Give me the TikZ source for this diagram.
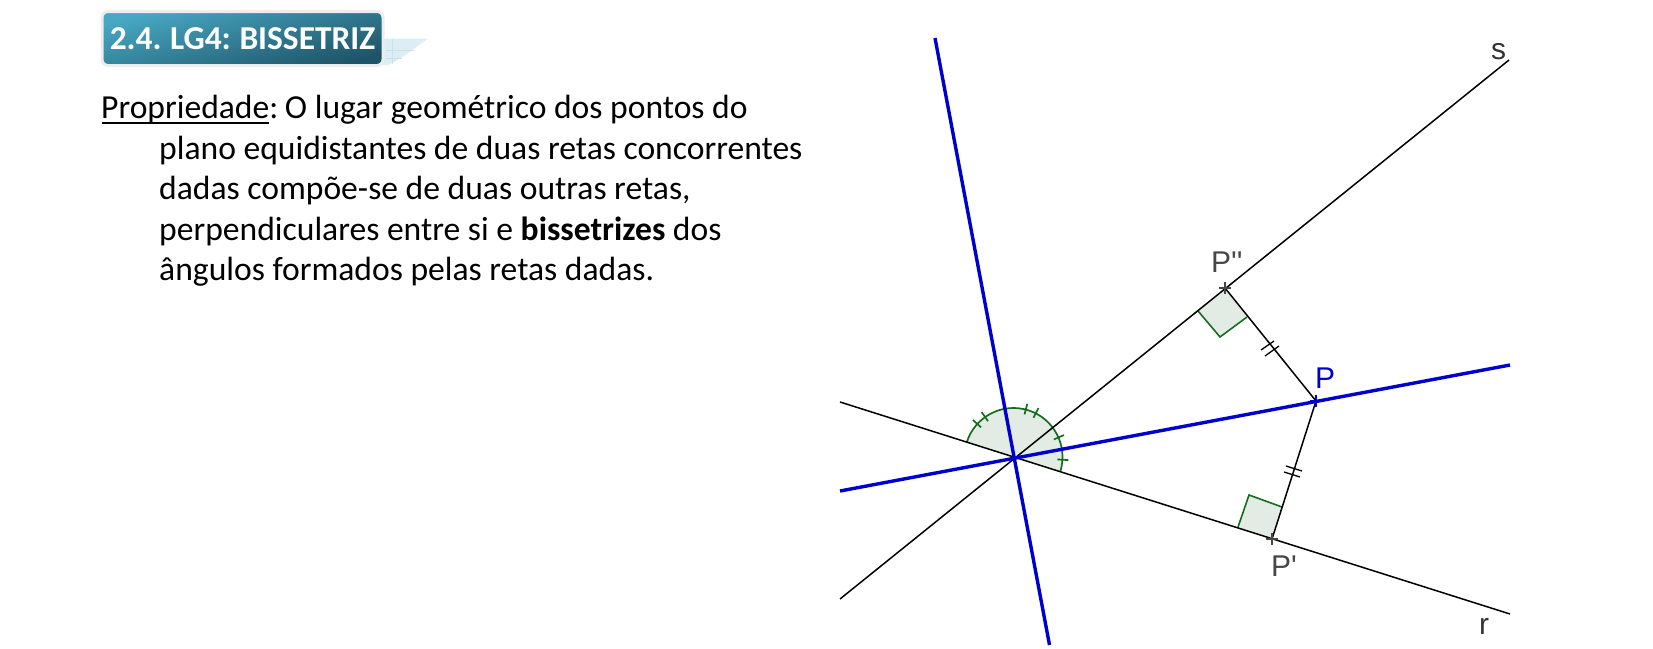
\documentclass[tikz,border=0pt]{standalone}
\usepackage{fontspec}
\setmainfont{Carlito}
\newfontfamily\geofont{Liberation Sans}
\usetikzlibrary{calc}
\definecolor{bluel}{RGB}{0,0,205}
\definecolor{greenm}{RGB}{20,110,30}
\definecolor{greenf}{RGB}{226,236,228}
\definecolor{graym}{RGB}{70,70,70}
\definecolor{boxtop}{RGB}{72,168,196}
\definecolor{boxbot}{RGB}{30,84,104}
\definecolor{sheet}{RGB}{220,238,243}
\definecolor{sheetgrid}{RGB}{200,226,234}
\tikzset{
  x=1pt,y=-1pt,
  thinline/.style={black,line width=1.5pt},
  blueline/.style={bluel,line width=3.4pt},
  greenmark/.style={greenm,line width=1.7pt},
  angfill/.style={fill=greenf,draw=none},
  geolabel/.style={anchor=base west,inner sep=0pt,font=\geofont\fontsize{30}{30}\selectfont,text=graym},
  bodytext/.style={anchor=base west,inner sep=0pt,font=\fontsize{33.6}{40}\selectfont,text=black},
  tick/.style={black,line width=1.3pt},
  ptmark/.style={graym,line width=1.8pt},
  titlebox/.style={rounded corners=6pt,minimum width=281pt,minimum height=54pt,inner sep=0pt,
    draw=black!7,line width=3pt,top color=boxtop,bottom color=boxbot,shading angle=15,
    text=white,font=\bfseries\fontsize{33.4}{33.4}\selectfont},
}
\begin{document}
\begin{tikzpicture}
\useasboundingbox (0,0) rectangle (1653,648);
% title sheet
\fill[sheet] (380,38.5) -- (428,38.5) .. controls (412,50) and (400,60) .. (388,65) -- (380,65) -- cycle;
\draw[sheetgrid,line width=.7pt] (386,50) -- (414,50) (392,38.5) -- (392,64) (386,58) -- (402,58);
\node[titlebox] (title) at (242.5,38.5) {2.4.\hspace{-1.5pt} LG4:\hspace{-1.5pt} BISSETRIZ};
% text
\node[bodytext] (l1) at (101,118.5) {Propriedade\llap{\rule[-5pt]{167pt}{1.5pt}}:\hspace{-3.5pt} O lugar geométrico dos pontos do};
\node[bodytext] (l2) at (159,159) {plano equidistantes de duas retas concorrentes};
\node[bodytext] (l3) at (159,199.5) {dadas compõe-se de duas outras retas,};
\node[bodytext] (l4) at (159,240) {perpendiculares entre si e \textbf{bissetrizes} dos};
\node[bodytext] (l5) at (159,280.5) {ângulos formados pelas retas dadas.};
% points
\coordinate (O) at (1013.5,457);
\coordinate (P) at (1316,401);
\coordinate (P1) at (1272,539);
\coordinate (P2) at (1225,288);
\coordinate (sa) at (840,599);
\coordinate (sb) at (1509,60);
\coordinate (ra) at (840,402);
\coordinate (rb) at (1510,614);
\coordinate (ba) at (935,38);
\coordinate (bb) at (1049.5,645);
\coordinate (ca) at (840,491);
\coordinate (cb) at (1510,365);
% angle sector
\fill[angfill] (O) -- ++(162.6:49pt) arc[start angle=162.6,end angle=-17.4,radius=49pt] -- cycle;
\draw[greenmark] ($(O)+(162.6:49pt)$) arc[start angle=162.6,end angle=-17.4,radius=49pt];
\foreach \a in {137.6,125.4,75.5,63,23.5,-3.2}{
  \draw[greenmark] ($(O)+(\a:44pt)$) -- ($(O)+(\a:55pt)$);
}
% right angles
\fill[greenf] (P2) -- (1198,311) -- (1220,337) -- (1247,317) -- cycle;
\fill[greenf] (P1) -- (1238,527) -- (1249,495) -- (1282,507) -- cycle;
\draw[greenm,line width=1.6pt] (1198,311) -- (1220,337) -- (1247,317);
\draw[greenm,line width=1.6pt] (1238,527) -- (1249,495) -- (1282,507);
% lines
\draw[thinline] (sa) -- (sb);
\draw[thinline] (ra) -- (rb);
\draw[thinline] (P2) -- (P);
\draw[thinline] (P1) -- (P);
\draw[blueline] (ba) -- (bb);
\draw[blueline] (ca) -- (cb);
% equal marks
\draw[tick] (1261,350) -- (1274,341) (1265,356) -- (1279,346);
\draw[tick] (1286,466) -- (1302,471) (1284,472) -- (1300,477);
% point marks
\draw[ptmark] (1225,282) -- (1225,294) (1219,288) -- (1231,288);
\draw[ptmark] (1272,533) -- (1272,545) (1266,539) -- (1278,539);
\draw[bluel,line width=1.8pt] (1316,395) -- (1316,407) (1310,401) -- (1322,401);
% labels
\node[geolabel] (lp2) at (1211,272) {P''};
\node[geolabel,text=bluel] (lp) at (1315,388) {P};
\node[geolabel] (lp1) at (1271,576) {P'};
\node[geolabel,text=black!80] (ls) at (1491,59) {s};
\node[geolabel,text=black!80] (lr) at (1479,634) {r};
\end{tikzpicture}
\end{document}
